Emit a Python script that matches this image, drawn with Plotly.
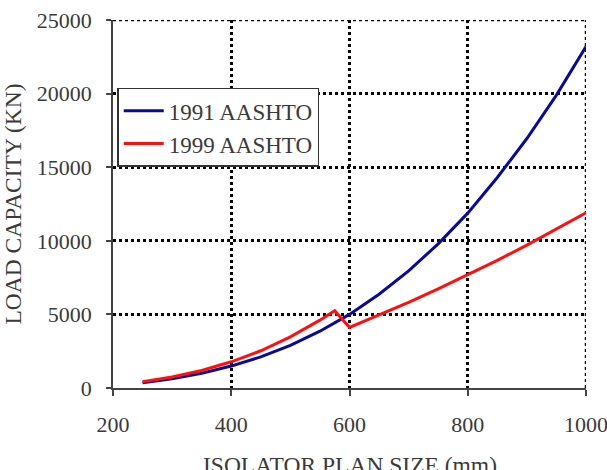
import plotly.graph_objects as go

# Isolator plan size (mm)
size_1991 = [250, 300, 350, 400, 450, 500, 550, 575, 600, 650, 700, 750, 800, 850, 900, 950, 1000]
load_1991 = [360, 630, 1000, 1490, 2110, 2900, 3860, 4410, 5000, 6370, 7960, 9790, 11880, 14300, 16950, 19900, 23200]

size_1999 = [250, 300, 350, 400, 450, 500, 550, 575, 600, 650, 700, 750, 800, 850, 900, 950, 1000]
load_1999 = [430, 750, 1190, 1780, 2530, 3470, 4610, 5250, 4120, 4950, 5820, 6730, 7680, 8670, 9710, 10780, 11900]

series_names = ["1991 AASHTO", "1999 AASHTO"]
x_ticks = [200, 400, 600, 800, 1000]
y_ticks = [0, 5000, 10000, 15000, 20000, 25000]

FONT = "Liberation Serif"
TXT = "#3a3a3a"
tickfont = dict(family=FONT, size=22, color=TXT)
titlefont = dict(family=FONT, size=23.5, color=TXT)

fig = go.Figure()
fig.add_trace(go.Scatter(x=size_1991, y=load_1991, mode="lines", name=series_names[0],
                         line=dict(color="#0a0a96", width=3)))
fig.add_trace(go.Scatter(x=size_1999, y=load_1999, mode="lines", name=series_names[1],
                         line=dict(color="#ff1010", width=3)))

# dotted borders at top (max y tick) and right (max x tick), like the grid
grid_line = dict(color="black", width=2.5, dash="dot")
fig.add_shape(type="line", xref="x", yref="y", x0=x_ticks[0], x1=x_ticks[-1],
              y0=y_ticks[-1], y1=y_ticks[-1], line=grid_line, layer="below")
fig.add_shape(type="line", xref="x", yref="y", x0=x_ticks[-1], x1=x_ticks[-1],
              y0=y_ticks[0], y1=y_ticks[-1], line=grid_line, layer="below")

# x-axis title (partly cut by the bottom edge, as in the reference)
fig.add_annotation(text="ISOLATOR PLAN SIZE (mm)", xref="paper", yref="paper",
                   x=0.5, y=-0.21, xanchor="center", yanchor="middle",
                   showarrow=False, font=titlefont)

fig.update_layout(
    width=607, height=470,
    margin=dict(l=113, r=21, t=20, b=82),
    paper_bgcolor="white", plot_bgcolor="white",
    font=dict(family=FONT, size=22, color=TXT),
    showlegend=True,
    legend=dict(x=0.009, y=0.816, xanchor="left", yanchor="top",
                bgcolor="white", bordercolor="#333333", borderwidth=1.5,
                font=dict(family=FONT, size=23, color=TXT),
                tracegroupgap=0, itemwidth=40),
)
fig.update_xaxes(
    range=[200, 1000], tickvals=x_ticks, ticktext=[str(v) for v in x_ticks],
    tickfont=tickfont, automargin=False, ticklabeloverflow="allow",
    showline=True, linecolor="#444444", linewidth=1.5,
    ticks="outside", ticklen=6, tickwidth=1.5, tickcolor="#444444",
    ticklabelstandoff=10,
    showgrid=True, gridcolor="black", gridwidth=2.5, griddash="dot",
    zeroline=False,
)
fig.update_yaxes(
    range=[0, 25000], tickvals=y_ticks, ticktext=[str(v) for v in y_ticks],
    tickfont=tickfont, automargin=False, ticklabeloverflow="allow",
    showline=True, linecolor="#444444", linewidth=1.5,
    ticks="outside", ticklen=5, tickwidth=1.5, tickcolor="#444444",
    ticklabelstandoff=10,
    showgrid=True, gridcolor="black", gridwidth=2.5, griddash="dot",
    zeroline=False,
    title=dict(text="LOAD CAPACITY (KN)", font=titlefont, standoff=20),
)

fig.write_html("out.html")
